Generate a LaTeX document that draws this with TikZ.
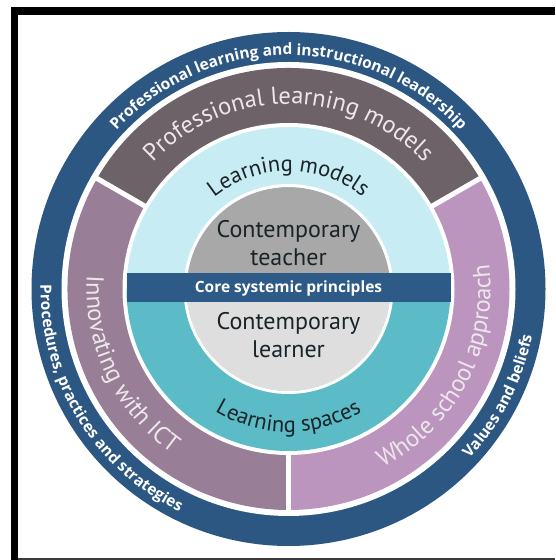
\documentclass[tikz,border=0pt]{standalone}
\usepackage{fontspec}
\setmainfont{PT Sans}
\newfontfamily\labelbold{Open Sans}
\usetikzlibrary{decorations.text,calc}

\definecolor{ringblue}{HTML}{2C5782}
\definecolor{bandblue}{HTML}{2D5A86}
\definecolor{segtop}{HTML}{6C6268}
\definecolor{segleft}{HTML}{987E96}
\definecolor{segright}{HTML}{BB95BE}
\definecolor{lightcyan}{HTML}{C8ECF3}
\definecolor{tealfill}{HTML}{5BBBC7}
\definecolor{graytop}{HTML}{A8A8A8}
\definecolor{graybot}{HTML}{DEDEDE}
\definecolor{darktext}{HTML}{1A2327}
\definecolor{palelabel}{HTML}{ECE7EA}
\definecolor{framegray}{HTML}{3A3A3A}

\newcommand\outerRingFont{\labelbold\bfseries\fontsize{15.5}{15.5}\selectfont\color{white}}
\newcommand\midRingFont{\fontsize{24.5}{24.5}\selectfont\color{palelabel}}
\newcommand\innerRingFont{\fontsize{22.5}{22.5}\selectfont\color{darktext}}

\tikzset{
  arclabel/.style={decorate,decoration={text along path,text align=center,text={#1}}},
  coretext/.style={text=darktext,font=\fontsize{24}{28}\selectfont,align=center,inner sep=0pt},
  bandtext/.style={text=white,font=\labelbold\bfseries\fontsize{15.5}{15.5}\selectfont,inner sep=0pt}
}

\begin{document}
\begin{tikzpicture}[x=1pt,y=1pt]
\useasboundingbox (0,0) rectangle (555,560);
\fill[white] (0,0) rectangle (555,560);

% frame edges
\fill[black] (11,545) rectangle (555,553);
\fill[black] (11,0) rectangle (18,553);
\fill[framegray] (18,0) rectangle (555,2);

\coordinate (C) at (288.5,271);

\begin{scope}[shift={(C)}]
  % outer ring
  \fill[ringblue] (0,0) circle[radius=257pt];
  \fill[white] (0,0) circle[radius=227pt];

  % three segments of the middle ring
  \fill[segtop] (0,0) -- (30:221pt) arc[start angle=30,end angle=150,radius=221pt] -- cycle;
  \fill[segleft] (0,0) -- (150:221pt) arc[start angle=150,end angle=270,radius=221pt] -- cycle;
  \fill[segright] (0,0) -- (270:221pt) arc[start angle=270,end angle=390,radius=221pt] -- cycle;
  \foreach \a in {30,150,270}
    \draw[white,line width=5pt] (0,0) -- (\a:224pt);
  \fill[white] (0,0) circle[radius=166pt];

  % learning models / learning spaces disc
  \fill[lightcyan] (0:162pt) arc[start angle=0,end angle=180,radius=162pt] -- cycle;
  \fill[tealfill] (180:162pt) arc[start angle=180,end angle=360,radius=162pt] -- cycle;

  % teacher / learner disc
  \fill[graytop] (0:102pt) arc[start angle=0,end angle=180,radius=102pt] -- cycle;
  \fill[graybot] (180:102pt) arc[start angle=180,end angle=360,radius=102pt] -- cycle;
  \draw[white,line width=3pt] (0,0) circle[radius=103.5pt];

  % core band
  \fill[bandblue] (-162,-13.5) rectangle (162,15.5);

  % outer ring labels
  \path[arclabel={|\outerRingFont|Professional learning and instructional leadership}]
    (165:234pt) arc[start angle=165,end angle=15,radius=234pt];
  \path[arclabel={|\outerRingFont|Procedures, practices and strategies}]
    (166:248pt) arc[start angle=166,end angle=257,radius=248pt];
  \path[arclabel={|\outerRingFont|Values and beliefs}]
    (-62:248pt) arc[start angle=-62,end angle=8,radius=248pt];

  % middle ring labels
  \path[arclabel={|\midRingFont|Professional learning models}]
    (150:185pt) arc[start angle=150,end angle=30,radius=185pt];
  \path[arclabel={|\midRingFont|Innovating with ICT}]
    (160:202pt) arc[start angle=160,end angle=251,radius=202pt];
  \path[arclabel={|\midRingFont|Whole school approach}]
    (-72:202pt) arc[start angle=-72,end angle=17,radius=202pt];

  % inner disc labels
  \path[arclabel={|\innerRingFont|Learning models}]
    (150:118pt) arc[start angle=150,end angle=30,radius=118pt];
  \path[arclabel={|\innerRingFont|Learning spaces}]
    (220:143pt) arc[start angle=220,end angle=320,radius=143pt];
\end{scope}

\node[coretext] (teacher) at ($(C)+(0,46)$) {Contemporary\\teacher};
\node[coretext] (learner) at ($(C)+(0,-46.5)$) {Contemporary\\learner};
\node[bandtext] (core) at ($(C)+(0,1)$) {Core systemic principles};
\end{tikzpicture}
\end{document}
